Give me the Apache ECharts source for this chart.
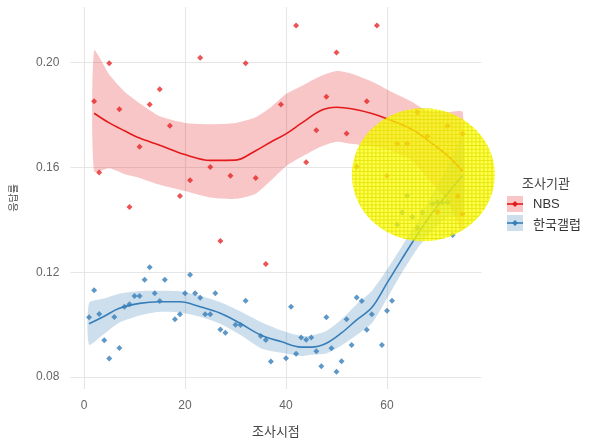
<!DOCTYPE html>
<html><head><meta charset="utf-8">
<script src="https://cdn.jsdelivr.net/npm/echarts@6/dist/echarts.min.js"></script>
<style>html,body{margin:0;padding:0;background:#fff}#c{width:593px;height:443px}</style>
</head><body><div id="c"></div>
<script>
// tick labels
const xTicks = [0, 20, 40, 60];
const yTicks = [0.08, 0.12, 0.16, 0.20];

// NBS raw points
const nbsX = [2,3,5,7,9,11,13,15,17,19,21,23,25,27,29,32,34,36,39,42,44,46,48,50,52,54,56,58,60,62,64,66,68,70,72,74,75,75];
const nbsY = [0.1853,0.1581,0.1998,0.1822,0.1449,0.1679,0.1840,0.1899,0.1759,0.1491,0.1551,0.2019,0.1602,0.1319,0.1568,0.1998,0.1560,0.1231,0.1840,0.2142,0.1620,0.1742,0.1870,0.2039,0.1730,0.1603,0.1853,0.2142,0.1568,0.1690,0.1690,0.1811,0.1719,0.1430,0.1758,0.1490,0.1729,0.1422];

// 한국갤럽 raw points
const gallupX = [1,2,3,4,5,6,7,8,9,10,11,12,13,14,15,16,18,19,20,21,22,23,24,25,26,27,28,30,31,32,35,36,37,40,41,42,43,44,45,46,47,48,49,50,51,52,53,54,55,56,57,59,60,61,62,63,64,65,66,67,69,70,71,72,73];
const gallupY = [0.1028,0.1131,0.1040,0.0940,0.0870,0.1029,0.0911,0.1068,0.1078,0.1109,0.1109,0.1171,0.1219,0.1120,0.1090,0.1171,0.1020,0.1039,0.1120,0.1190,0.1120,0.1102,0.1039,0.1039,0.1120,0.0981,0.0969,0.0999,0.0998,0.1091,0.0956,0.0941,0.0859,0.0871,0.1068,0.0889,0.0951,0.0942,0.0951,0.0898,0.0841,0.1028,0.0910,0.0820,0.0860,0.1020,0.0922,0.1103,0.1090,0.0980,0.1039,0.0922,0.1053,0.1091,0.1382,0.1428,0.1492,0.1411,0.1370,0.1428,0.1461,0.1467,0.1467,0.1467,0.1342];

// NBS smooth fit and band
const nbsFitX = [2,5,8,11,15,20,25,30,34,37,40,43,47,50,53,57,60,65,68,72,75];
const nbsFit  = [0.1807,0.1770,0.1740,0.1712,0.1685,0.1649,0.1627,0.1628,0.1664,0.1697,0.1728,0.1768,0.1818,0.1830,0.1824,0.1806,0.1786,0.1745,0.1705,0.1645,0.1585];
const nbsHi   = [0.2046,0.1955,0.1890,0.1845,0.1795,0.1770,0.1765,0.1770,0.1792,0.1830,0.1880,0.1910,0.1950,0.1968,0.1958,0.1928,0.1898,0.1850,0.1815,0.1811,0.1811];
const nbsLo   = [0.1585,0.1597,0.1575,0.1560,0.1534,0.1510,0.1485,0.1480,0.1500,0.1550,0.1605,0.1640,0.1680,0.1698,0.1690,0.1680,0.1670,0.1625,0.1560,0.1470,0.1360];

// 한국갤럽 smooth fit and band
const gallupFitX = [1,4,7,11,15,19,23,27,31,35,39,43,45,48,51,54,57,60,63,66,69,72,75];
const gallupFit  = [0.1003,0.1032,0.1062,0.1081,0.1087,0.1087,0.1068,0.1043,0.1004,0.0960,0.0935,0.0914,0.0914,0.0929,0.0968,0.1018,0.1065,0.1158,0.1252,0.1343,0.1428,0.1500,0.1570];
const gallupHi   = [0.1083,0.1100,0.1118,0.1128,0.1129,0.1127,0.1110,0.1085,0.1050,0.1010,0.0978,0.0956,0.0958,0.0975,0.1020,0.1078,0.1128,0.1210,0.1300,0.1395,0.1500,0.1600,0.1720];
const gallupLo   = [0.0923,0.0965,0.1008,0.1035,0.1049,0.1046,0.1030,0.1003,0.0960,0.0910,0.0892,0.0880,0.0885,0.0890,0.0920,0.0960,0.1005,0.1100,0.1200,0.1290,0.1360,0.1410,0.1420];

// highlight annotation centre (data units)
const highlightCenter = [67.2, 0.1572];

const RED = '#E41A1C', BLUE = '#377EB8';
const FONT = '"Liberation Sans", Arial, "Noto Sans CJK KR", sans-serif';
const KFONT = '"Noto Sans CJK KR", sans-serif';

function pts(xs, ys) { return xs.map((x, i) => [x, ys[i]]); }
function band(xs, lo, hi, color) {
  return {
    type: 'custom', silent: true, clip: true,
    data: xs.map((x, i) => [x, lo[i], hi[i]]),
    encode: { x: 0, y: [1, 2] },
    renderItem: function (params, api) {
      if (params.dataIndex !== 0) return null;
      const top = xs.map((x, i) => api.coord([x, hi[i]]));
      const bot = xs.map((x, i) => api.coord([x, lo[i]])).reverse();
      return { type: 'polygon', shape: { points: top.concat(bot), smooth: 0.2 }, style: { fill: color } };
    }
  };
}

const chart = echarts.init(document.getElementById('c'), null, { renderer: 'canvas' });
chart.setOption({
  animation: false,
  backgroundColor: '#fff',
  grid: { left: 70.4, right: 111.6, top: 6.9, bottom: 49.8, containLabel: false },
  xAxis: {
    type: 'value', min: -2.7, max: 78.7,
    axisLine: { show: false }, axisTick: { show: false, customValues: xTicks },
    axisLabel: { customValues: xTicks, color: '#666', fontSize: 12, margin: 11, fontFamily: FONT },
    splitLine: { show: true, lineStyle: { color: '#e6e6e6', width: 1.2 } },
    name: '조사시점', nameLocation: 'middle', nameGap: 36,
    nameTextStyle: { fontSize: 13, color: '#444', fontFamily: KFONT }
  },
  yAxis: {
    type: 'value', min: 0.0754, max: 0.2213,
    axisLine: { show: false }, axisTick: { show: false, customValues: yTicks },
    axisLabel: { customValues: yTicks, color: '#666', fontSize: 12, margin: 11, fontFamily: FONT,
      formatter: v => v.toFixed(2) },
    splitLine: { show: true, lineStyle: { color: '#e6e6e6', width: 1.2 } },
    name: '응답률', nameLocation: 'middle', nameGap: 52,
    nameTextStyle: { fontSize: 10, color: '#444', fontFamily: KFONT }
  },
  series: [
    band(nbsFitX, nbsLo, nbsHi, 'rgba(228,26,28,0.25)'),
    band(gallupFitX, gallupLo, gallupHi, 'rgba(55,126,184,0.25)'),
    { type: 'scatter', name: 'NBS', data: pts(nbsX, nbsY), symbol: 'diamond', symbolSize: 6,
      itemStyle: { color: RED, opacity: 0.75 } },
    { type: 'scatter', name: '한국갤럽', data: pts(gallupX, gallupY), symbol: 'diamond', symbolSize: 6,
      itemStyle: { color: BLUE, opacity: 0.8 } },
    { type: 'line', data: pts(nbsFitX, nbsFit), smooth: 0.35, symbol: 'none', lineStyle: { color: RED, width: 1.6 } },
    { type: 'line', data: pts(gallupFitX, gallupFit), smooth: 0.35, symbol: 'none', lineStyle: { color: BLUE, width: 1.6 } }
  ]
});

// yellow hatched highlight
const pc = document.createElement('canvas'); pc.width = 4; pc.height = 4;
const g = pc.getContext('2d');
g.fillStyle = 'rgba(255,255,0,0.7)'; g.fillRect(0, 0, 4, 4);
g.fillStyle = 'rgba(225,225,0,0.85)'; g.fillRect(0, 0, 4, 1); g.fillRect(0, 1, 1, 3);
const cc = chart.convertToPixel({ gridIndex: 0 }, highlightCenter);

function key(y, color, fill) {
  return [
    { type: 'rect', shape: { x: 507, y: y - 8, width: 16, height: 16 }, style: { fill: fill }, z: 50 },
    { type: 'line', shape: { x1: 507, y1: y, x2: 523, y2: y }, style: { stroke: color, lineWidth: 1.6 }, z: 51 },
    { type: 'polygon', shape: { points: [[515, y - 3], [518, y], [515, y + 3], [512, y]] }, style: { fill: color }, z: 52 }
  ];
}

chart.setOption({
  graphic: [
    { type: 'circle', x: cc[0], y: cc[1], scaleY: 0.93, shape: { cx: 0, cy: 0, r: 71.5 },
      style: { fill: { image: pc, repeat: 'repeat' } }, z: 100 },
    { type: 'text', x: 522, y: 183, style: { text: '조사기관', font: '13px ' + KFONT, fill: '#444', verticalAlign: 'middle' }, z: 50 },
    ...key(204, RED, 'rgba(228,26,28,0.25)'),
    ...key(223, BLUE, 'rgba(55,126,184,0.25)'),
    { type: 'text', x: 533, y: 204, style: { text: 'NBS', font: '13px ' + FONT, fill: '#333', verticalAlign: 'middle' }, z: 50 },
    { type: 'text', x: 533, y: 224, style: { text: '한국갤럽', font: '13px ' + KFONT, fill: '#333', verticalAlign: 'middle' }, z: 50 }
  ]
});
</script></body></html>
